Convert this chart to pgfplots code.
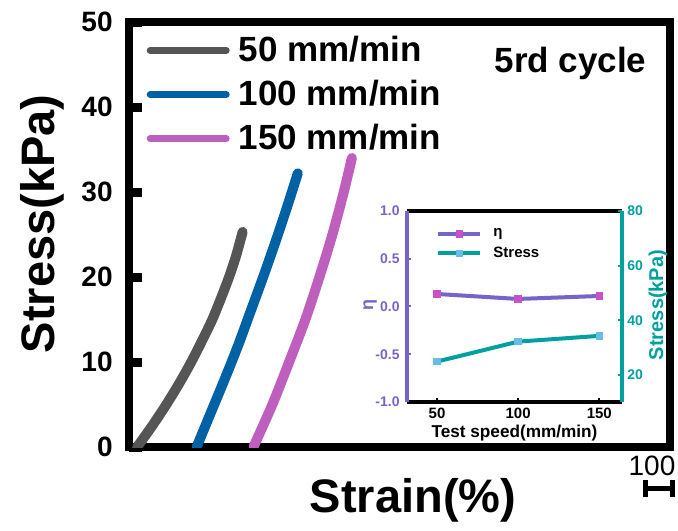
\documentclass[border=0pt]{standalone}
\usepackage{pgfplots}
\pgfplotsset{compat=1.18}
\usepackage{fontspec}
\setmainfont{Liberation Sans}
\definecolor{cgray}{RGB}{85,85,85}
\definecolor{cblue}{RGB}{0,98,165}
\definecolor{cpink}{RGB}{190,95,190}
\definecolor{cpurple}{RGB}{120,100,200}
\definecolor{cmag}{RGB}{200,80,200}
\definecolor{cteal}{RGB}{0,160,160}
\definecolor{clight}{RGB}{100,190,230}
\begin{document}
\begin{tikzpicture}
\useasboundingbox (-64.5bp,-42bp) rectangle (274.5bp,223.5bp);
% main stress-strain axis
\begin{axis}[
  at={(0bp,0bp)}, anchor=south west, scale only axis,
  width=270.5bp, height=212.5bp,
  xmin=0, xmax=100, ymin=0, ymax=50,
  xtick=\empty, ytick={0,10,20,30,40,50}, ytick pos=left,
  tick align=inside, major tick length=6.5bp,
  tick style={black, line width=4.5bp},
  axis line style={black, line width=4bp},
  /pgf/number format/assume math mode=true,
  yticklabel style={font=\bfseries\fontsize{14bp}{14bp}\selectfont, inner sep=0pt, xshift=-8bp},
  xlabel={Strain(\%)}, ylabel={Stress(kPa)},
  xlabel style={font=\bfseries\fontsize{23.5bp}{23.5bp}\selectfont, inner sep=0pt,
    at={(axis description cs:0.525,0)}, anchor=north, yshift=-15.5bp},
  ylabel style={font=\bfseries\fontsize{23.5bp}{23.5bp}\selectfont, inner sep=0pt,
    at={(axis description cs:-0.16,0.525)}, anchor=center},
  legend style={draw=none, fill=none, inner sep=0pt, at={(axis description cs:0.032,0.972)},
    anchor=north west, font=\bfseries\fontsize{17.5bp}{17.5bp}\selectfont,
    nodes={inner sep=1bp}, row sep=5.9bp, column sep=3.5bp},
  legend cell align=left,
  legend image code/.code={\draw[#1, line width=3.5bp, line cap=round] (0bp,0bp) -- (38bp,0bp);},
]
\addplot[cgray, line width=5bp, line cap=round, line join=round, smooth] coordinates {
(1.5,0)(4.3,2.5)(6.9,5)(9.3,7.5)(11.5,10)(13.5,12.5)(15.4,15)(17.0,17.5)(18.5,20)(19.8,22.5)(21.0,25.3)};
\addplot[cblue, line width=5bp, line cap=round, line join=round, smooth] coordinates {
(12.5,0)(15.1,4)(17.7,8)(20.2,12)(22.5,16)(24.8,20)(27.0,24)(29.1,28)(31.2,32.2)};
\addplot[cpink, line width=5bp, line cap=round, line join=round, smooth] coordinates {
(23.0,0)(26.5,5)(29.6,10)(32.6,15)(35.2,20)(37.6,25)(39.7,30)(41.2,34)};
\legend{50 mm/min,100 mm/min,150 mm/min}
\node[font=\bfseries\fontsize{17.5bp}{17.5bp}\selectfont, anchor=base, inner sep=0pt] at (axis cs:81.6,44.1) {5rd cycle};
\end{axis}
% scale mark at lower right
\node[font=\fontsize{14bp}{14bp}\selectfont, anchor=base, inner sep=0pt] at (261.5bp,-14bp) {100};
\draw[black, line width=2.5bp] (258bp,-20.5bp) -- (271.5bp,-20.5bp)
  (258bp,-16.5bp) -- (258bp,-25bp) (271.5bp,-16.5bp) -- (271.5bp,-25bp);
% inset: eta
\begin{axis}[
  at={(139bp,22.5bp)}, anchor=south west, scale only axis,
  width=107.5bp, height=95.5bp,
  xmin=31.5, xmax=164, ymin=-1, ymax=1,
  axis y line*=left,
  xtick={50,100,150}, ytick={-1,-0.5,0,0.5,1},
  xtick pos=bottom, tick align=inside, major tick length=2bp,
  x axis line style={black, line width=1.8bp},
  y axis line style={cpurple, line width=1.8bp},
  xtick style={black, line width=1bp}, ytick style={cpurple, line width=1bp},
  /pgf/number format/assume math mode=true,
  xticklabel style={font=\bfseries\fontsize{7.5bp}{7.5bp}\selectfont, inner sep=0pt, yshift=-3bp},
  yticklabel style={cpurple, font=\bfseries\fontsize{7bp}{7bp}\selectfont, inner sep=0pt, xshift=-3.5bp,
    /pgf/number format/.cd, fixed, fixed zerofill, precision=1},
  xlabel={Test speed(mm/min)}, ylabel={η},
  xlabel style={font=\bfseries\fontsize{8.6bp}{8.6bp}\selectfont, inner sep=0pt,
    at={(axis description cs:0.5,0)}, anchor=north, yshift=-11.5bp},
  ylabel style={cpurple, font=\bfseries\fontsize{9bp}{9bp}\selectfont, inner sep=0pt,
    at={(axis description cs:-0.172,0.508)}, anchor=center},
]
\addplot[cpurple, line width=2bp, mark=square*, mark size=1.6bp,
  mark options={fill=cmag, draw=cmag, line width=0pt}] coordinates {(50,0.131)(100,0.079)(150,0.11)};
\end{axis}
% inset: stress
\begin{axis}[
  at={(139bp,22.5bp)}, anchor=south west, scale only axis,
  width=107.5bp, height=95.5bp,
  xmin=31.5, xmax=164, ymin=10.1, ymax=80,
  axis y line*=right, axis x line=none,
  ytick={20,40,60,80}, tick align=inside, major tick length=2bp,
  y axis line style={cteal, line width=1.8bp},
  ytick style={cteal, line width=1bp},
  /pgf/number format/assume math mode=true,
  yticklabel style={cteal, font=\bfseries\fontsize{7bp}{7bp}\selectfont, inner sep=0pt, xshift=2.5bp},
  ylabel={Stress(kPa)},
  ylabel style={cteal, font=\bfseries\fontsize{10bp}{10bp}\selectfont, inner sep=0pt,
    at={(axis description cs:1.167,0.508)}, anchor=center},
  legend style={draw=none, fill=none, inner sep=0pt, at={(axis description cs:0.135,0.915)},
    anchor=north west, font=\bfseries\fontsize{7.5bp}{7.5bp}\selectfont,
    nodes={inner sep=0.5bp}, row sep=2.5bp, column sep=5bp},
  legend cell align=left,
  legend image code/.code={\draw[#1, mark repeat=2, mark phase=2] plot coordinates {(0bp,0bp)(10.5bp,0bp)(21bp,0bp)};},
]
\addlegendimage{cpurple, line width=2bp, mark=square*, mark size=1.6bp,
  mark options={fill=cmag, draw=cmag, line width=0pt}}
\addlegendentry{η}
\addplot[cteal, line width=2bp, mark=square*, mark size=1.6bp,
  mark options={fill=clight, draw=clight, line width=0pt}] coordinates {(50,24.9)(100,32.2)(150,34.3)};
\addlegendentry{Stress}
\end{axis}
\end{tikzpicture}
\end{document}
